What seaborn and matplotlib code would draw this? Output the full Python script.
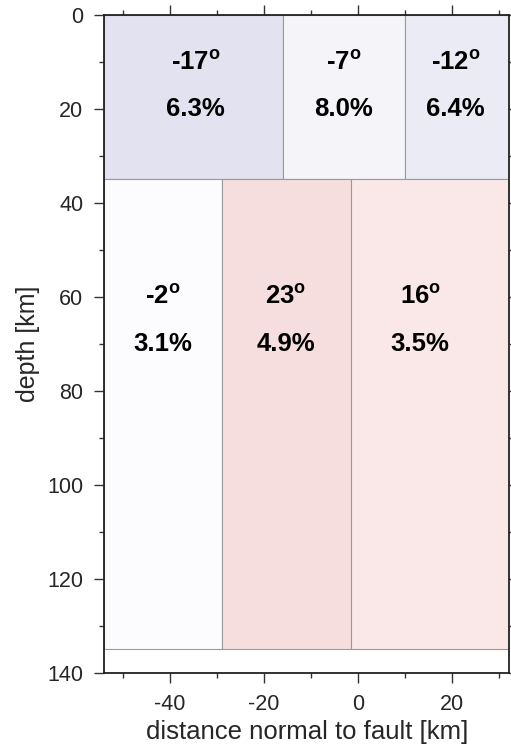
import numpy as np
import matplotlib
matplotlib.use("Agg")
import matplotlib.pyplot as plt
from matplotlib.colors import LinearSegmentedColormap, Normalize
from matplotlib.ticker import MultipleLocator
import seaborn as sns

# Two depth layers of fault-normal blocks
layer_tops = [0, 35]
layer_bottoms = [35, 135]
upper_edges = [-54, -16, 10, 32.3]
lower_edges = [-54, -29, -1.5, 32.3]
upper_angles = [-17, -7, -12]
upper_percent = [6.3, 8.0, 6.4]
lower_angles = [-2, 23, 16]
lower_percent = [3.1, 4.9, 3.5]
# annotation anchors (x in km, depths of the angle / percentage lines)
upper_label_x = [-34.5, -3.0, 20.8]
lower_label_x = [-41.5, -15.3, 13.3]
upper_label_depth = [10, 20]
lower_label_depth = [60, 70]

sns.set_theme(style="ticks")
plt.rcParams["font.family"] = ["Liberation Sans", "DejaVu Sans"]
plt.rcParams["mathtext.fontset"] = "custom"
plt.rcParams["mathtext.rm"] = "Liberation Sans"
plt.rcParams["mathtext.bf"] = "Liberation Sans:bold"
plt.rcParams["axes.unicode_minus"] = False

cmap = LinearSegmentedColormap.from_list(
    "angle", [(0.415, 0.415, 0.71), (1, 1, 1), (0.88, 0.49, 0.49)])
norm = Normalize(vmin=-90, vmax=90)

fig = plt.figure(figsize=(5.11, 7.5), dpi=100)
ax = fig.add_axes([0.204, 0.103, 0.793, 0.877])

rows = [
    (layer_tops[0], layer_bottoms[0], upper_edges, upper_angles,
     upper_percent, upper_label_x, upper_label_depth),
    (layer_tops[1], layer_bottoms[1], lower_edges, lower_angles,
     lower_percent, lower_label_x, lower_label_depth),
]
for top, bottom, edges, angles, pcts, lx, ld in rows:
    lefts = np.array(edges[:-1])
    widths = np.diff(edges)
    ax.bar(lefts, bottom - top, width=widths, bottom=top, align="edge",
           color=cmap(norm(np.array(angles))), edgecolor="#9a9a9a",
           linewidth=0.8, zorder=1)
    for cx, ang, pct in zip(lx, angles, pcts):
        ax.text(cx, ld[0], f"{ang}" + r"$^{\mathbf{o}}$", ha="center",
                va="center", fontsize=18.5, fontweight="bold", color="black")
        ax.text(cx, ld[1], f"{pct:.1f}%", ha="center", va="center",
                fontsize=18.5, fontweight="bold", color="black")

ax.set_xlim(-54, 32.3)
ax.set_ylim(140, 0)
ax.xaxis.set_major_locator(MultipleLocator(20))
ax.xaxis.set_minor_locator(MultipleLocator(10))
ax.yaxis.set_major_locator(MultipleLocator(20))
ax.yaxis.set_minor_locator(MultipleLocator(10))
ax.tick_params(which="both", direction="out", top=True, right=True,
               labeltop=False, labelright=False, color="#333333",
               labelsize=15.5, width=1.0)
ax.tick_params(which="major", length=7)
ax.tick_params(axis="y", which="major", pad=8)
ax.tick_params(axis="x", which="major", pad=8)
ax.tick_params(which="minor", length=3.5)
for s in ax.spines.values():
    s.set_color("#222222")
    s.set_linewidth(1.3)
    s.set_zorder(3)

ax.set_xlabel("distance normal to fault [km]", fontsize=18.5, labelpad=4)
ax.set_ylabel("depth [km]", fontsize=18, labelpad=5)

fig.savefig("out.png", dpi=100)
